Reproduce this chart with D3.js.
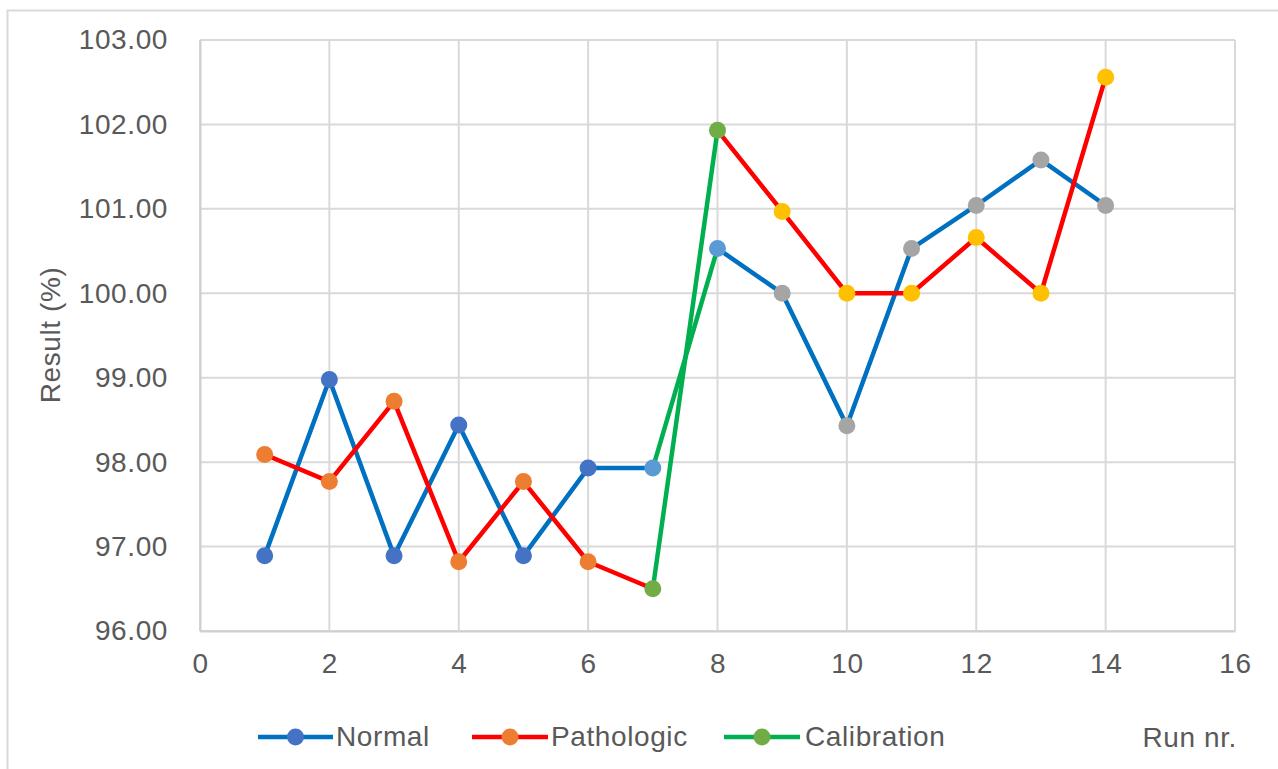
<!DOCTYPE html>
<html>
<head>
<meta charset="utf-8">
<script src="https://cdn.jsdelivr.net/npm/d3@7"></script>
<style>
  html, body { margin: 0; padding: 0; background: #fff; }
  svg { display: block; }
  text { font-family: "Liberation Sans", Arial, sans-serif; fill: #595959; letter-spacing: 0.6px; }
</style>
</head>
<body>
<svg id="chart" width="1278" height="769"></svg>
<script>
// Run numbers and measured results (%)
const runs = [1, 2, 3, 4, 5, 6, 7, 8, 9, 10, 11, 12, 13, 14];
const normal = [96.89, 98.98, 96.89, 98.44, 96.89, 97.93, 97.93, 100.53, 100.00, 98.43, 100.53, 101.04, 101.58, 101.04];
const pathologic = [98.09, 97.77, 98.72, 96.82, 97.77, 96.82, 96.50, 101.93, 100.97, 100.00, 100.00, 100.66, 100.00, 102.56];
// Calibration happens between these two runs
const calibrationRuns = [7, 8];

const xTicks = [0, 2, 4, 6, 8, 10, 12, 14, 16];
const yTicks = [96, 97, 98, 99, 100, 101, 102, 103];
const legendNames = ["Normal", "Pathologic", "Calibration"];

const colors = {
  normalLine: "#0070C0", pathLine: "#FF0000", calLine: "#00B050",
  normalBefore: "#4472C4", normalCal: "#5B9BD5", normalAfter: "#A5A5A5",
  pathBefore: "#ED7D31", pathCal: "#70AD47", pathAfter: "#FFC000"
};

const svg = d3.select("#chart");
const plot = { left: 200, right: 1235, top: 40, bottom: 631 };
const fontSize = "28px";

const x = d3.scaleLinear().domain([0, 16]).range([plot.left, plot.right]);
const y = d3.scaleLinear().domain([96, 103]).range([plot.bottom, plot.top]);

// Outer chart frame
svg.append("rect")
  .attr("x", 7.5).attr("y", 10.5).attr("width", 1300).attr("height", 800)
  .attr("fill", "none").attr("stroke", "#D9D9D9").attr("stroke-width", 2);

// Gridlines
const grid = svg.append("g");
grid.selectAll("line.h").data(yTicks).join("line")
  .attr("x1", plot.left).attr("x2", plot.right)
  .attr("y1", d => y(d)).attr("y2", d => y(d))
  .attr("stroke", "#D9D9D9").attr("stroke-width", 2);
grid.selectAll("line.v").data(xTicks).join("line")
  .attr("y1", plot.top).attr("y2", plot.bottom)
  .attr("x1", d => x(d)).attr("x2", d => x(d))
  .attr("stroke", "#D9D9D9").attr("stroke-width", 2);

// Axes (labels only; lines come from the grid)
const yAxis = d3.axisLeft(y).tickValues(yTicks).tickFormat(d3.format(".2f")).tickSize(0).tickPadding(32);
const gy = svg.append("g").attr("transform", `translate(${plot.left},0)`).call(yAxis);
gy.select(".domain").attr("stroke", "#CFCFCF").attr("stroke-width", 2);
gy.selectAll("text").style("font-size", fontSize).attr("fill", "#595959");

const xAxis = d3.axisBottom(x).tickValues(xTicks).tickFormat(d3.format("d")).tickSize(0).tickPadding(22);
const gx = svg.append("g").attr("transform", `translate(0,${plot.bottom})`).call(xAxis);
gx.select(".domain").attr("stroke", "#CFCFCF").attr("stroke-width", 2);
gx.selectAll("text").style("font-size", fontSize).attr("fill", "#595959");

// Axis titles
svg.append("text")
  .attr("transform", `translate(60,335) rotate(-90)`)
  .attr("text-anchor", "middle")
  .style("font-size", fontSize)
  .text("Result (%)");
svg.append("text")
  .attr("x", 1237).attr("y", 747)
  .attr("text-anchor", "end")
  .style("font-size", fontSize)
  .text("Run nr.");

// Build segments; the step between the calibration runs is drawn in the calibration colour
function segments(values, lineColor) {
  const segs = [];
  for (let i = 0; i < runs.length - 1; i++) {
    const isCal = runs[i] === calibrationRuns[0] && runs[i + 1] === calibrationRuns[1];
    segs.push({ x1: runs[i], y1: values[i], x2: runs[i + 1], y2: values[i + 1],
      color: isCal ? colors.calLine : lineColor, cal: isCal });
  }
  return segs;
}
function markerColor(run, before, cal, after) {
  if (calibrationRuns.includes(run)) return cal;
  return run < calibrationRuns[0] ? before : after;
}

const series = [
  { values: normal, line: colors.normalLine, before: colors.normalBefore, cal: colors.normalCal, after: colors.normalAfter },
  { values: pathologic, line: colors.pathLine, before: colors.pathBefore, cal: colors.pathCal, after: colors.pathAfter }
];

const lineG = svg.append("g");
series.forEach(s => {
  const segs = segments(s.values, s.line);
  lineG.append("g").selectAll("line").data(segs.filter(d => !d.cal)).join("line")
    .attr("x1", d => x(d.x1)).attr("y1", d => y(d.y1))
    .attr("x2", d => x(d.x2)).attr("y2", d => y(d.y2))
    .attr("stroke", d => d.color).attr("stroke-width", 4.5).attr("stroke-linecap", "round");
});
series.forEach(s => {
  const segs = segments(s.values, s.line);
  lineG.append("g").selectAll("line").data(segs.filter(d => d.cal)).join("line")
    .attr("x1", d => x(d.x1)).attr("y1", d => y(d.y1))
    .attr("x2", d => x(d.x2)).attr("y2", d => y(d.y2))
    .attr("stroke", d => d.color).attr("stroke-width", 4.5).attr("stroke-linecap", "round");
});
series.forEach(s => {
  svg.append("g").selectAll("circle").data(runs).join("circle")
    .attr("cx", d => x(d)).attr("cy", (d, i) => y(s.values[i]))
    .attr("r", 8.5)
    .attr("fill", d => markerColor(d, s.before, s.cal, s.after));
});

// Legend
const legendItems = [
  { name: legendNames[0], line: colors.normalLine, marker: colors.normalBefore, x1: 258, x2: 333, tx: 336 },
  { name: legendNames[1], line: colors.pathLine, marker: colors.pathBefore, x1: 472, x2: 548, tx: 551 },
  { name: legendNames[2], line: colors.calLine, marker: colors.pathCal, x1: 724, x2: 800, tx: 805 }
];
const legend = svg.append("g");
legendItems.forEach(it => {
  legend.append("line").attr("x1", it.x1).attr("x2", it.x2).attr("y1", 737).attr("y2", 737)
    .attr("stroke", it.line).attr("stroke-width", 4.5);
  legend.append("circle").attr("cx", (it.x1 + it.x2) / 2).attr("cy", 737).attr("r", 8.5).attr("fill", it.marker);
  legend.append("text").attr("x", it.tx).attr("y", 746).style("font-size", fontSize).text(it.name);
});
</script>
</body>
</html>
